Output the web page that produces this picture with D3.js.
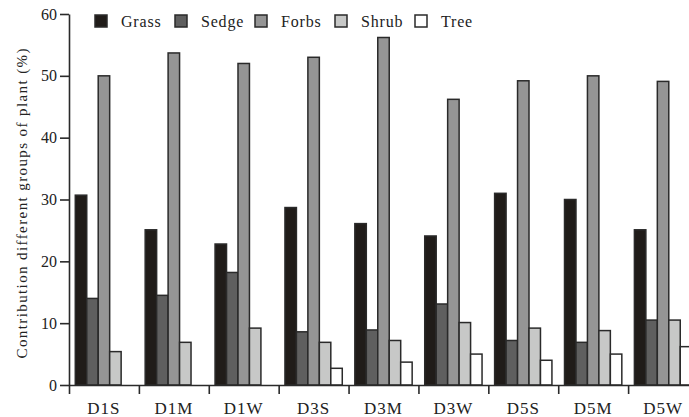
<!DOCTYPE html>
<html>
<head>
<meta charset="utf-8">
<script src="https://cdn.jsdelivr.net/npm/d3@7"></script>
<style>
  body { margin: 0; background: #fff; }
</style>
</head>
<body>
<svg id="chart" width="689" height="417"></svg>
<script>
// data
const groups = ["D1S", "D1M", "D1W", "D3S", "D3M", "D3W", "D5S", "D5M", "D5W"];
const seriesNames = ["Grass", "Sedge", "Forbs", "Shrub", "Tree"];
const grass = [30.7, 25.1, 22.8, 28.7, 26.1, 24.1, 31.0, 30.0, 25.1];
const sedge = [14.0, 14.5, 18.2, 8.6, 8.9, 13.1, 7.2, 6.9, 10.5];
const forbs = [50.0, 53.7, 52.0, 53.0, 56.2, 46.2, 49.2, 50.0, 49.1];
const shrub = [5.4, 6.9, 9.2, 6.9, 7.2, 10.1, 9.2, 8.8, 10.5];
const tree = [0, 0, 0, 2.7, 3.7, 5.0, 4.0, 5.0, 6.2];
const yTicks = [0, 10, 20, 30, 40, 50, 60];

const colors = ["#201c19", "#5f5f5f", "#959595", "#c7c8c7", "#ffffff"];
const seriesValues = [grass, sedge, forbs, shrub, tree];
const serif = "'Liberation Serif', 'Times New Roman', Times, serif";

const svg = d3.select("#chart");

// plot area (right side is cut off in the original picture)
const plotLeft = 69, plotRight = 698, plotTop = 14, plotBottom = 385;

const x0 = d3.scaleBand()
    .domain(groups)
    .range([plotLeft, plotRight])
    .paddingInner(0.18)
    .paddingOuter(0.09);
const x1 = d3.scaleBand()
    .domain(seriesNames)
    .range([0, x0.bandwidth()])
    .padding(0);
const y = d3.scaleLinear()
    .domain([0, 60])
    .range([plotBottom, plotTop]);
// group boundaries for the x ticks
const xb = d3.scaleLinear()
    .domain([0, groups.length])
    .range([plotLeft, plotRight]);

const color = d3.scaleOrdinal().domain(seriesNames).range(colors);

// bars
const rows = groups.map((g, i) => ({
    group: g,
    values: seriesNames.map((s, j) => ({ key: s, value: seriesValues[j][i] }))
}));

svg.append("g")
    .selectAll("g")
    .data(rows)
    .join("g")
        .attr("transform", d => `translate(${x0(d.group)},0)`)
    .selectAll("rect")
    .data(d => d.values.filter(v => v.value > 0))
    .join("rect")
        .attr("x", d => x1(d.key))
        .attr("y", d => y(d.value))
        .attr("width", x1.bandwidth())
        .attr("height", d => y(0) - y(d.value))
        .attr("fill", d => color(d.key))
        .attr("stroke", "#2a2a2a")
        .attr("stroke-width", 1.5);

// y axis
const yAxis = svg.append("g")
    .attr("transform", `translate(${plotLeft},0)`)
    .call(d3.axisLeft(y).tickValues(yTicks).tickSize(9).tickPadding(3).tickSizeOuter(0));
yAxis.selectAll("text").style("font-size", "16px");

// x axis: boundary ticks
svg.append("g")
    .attr("transform", `translate(0,${plotBottom})`)
    .call(d3.axisBottom(xb).tickValues(d3.range(groups.length + 1)).tickFormat("").tickSize(9).tickSizeOuter(0));

// x axis: group labels
const xLabels = svg.append("g")
    .attr("transform", `translate(0,${plotBottom})`)
    .call(d3.axisBottom(x0).tickSize(0).tickPadding(17));
xLabels.select(".domain").remove();
xLabels.selectAll("text").style("font-size", "17px").style("letter-spacing", "1px");

svg.selectAll(".domain, .tick line")
    .attr("stroke", "#2a2a2a")
    .attr("stroke-width", 1.6);

// y title
svg.append("text")
    .attr("transform", `translate(22,${(plotTop + plotBottom) / 2 + 4}) rotate(-90)`)
    .attr("text-anchor", "middle")
    .attr("dy", "0.35em")
    .attr("textLength", 310)
    .attr("lengthAdjust", "spacing")
    .style("font-size", "15px")
    .text("Contribution different groups of plant (%)");

// legend
const legend = svg.append("g")
    .selectAll("g")
    .data(seriesNames)
    .join("g")
        .attr("transform", (d, i) => `translate(${95 + i * 80},15)`);
legend.append("rect")
    .attr("width", 12)
    .attr("height", 12)
    .attr("fill", d => color(d))
    .attr("stroke", "#2a2a2a")
    .attr("stroke-width", 1.5);
legend.append("text")
    .attr("x", 26)
    .attr("y", 6)
    .attr("dy", "0.35em")
    .style("font-size", "16px")
    .style("letter-spacing", "0.8px")
    .text(d => d);

svg.selectAll("text")
    .style("font-family", serif)
    .style("fill", "#222");
</script>
</body>
</html>
